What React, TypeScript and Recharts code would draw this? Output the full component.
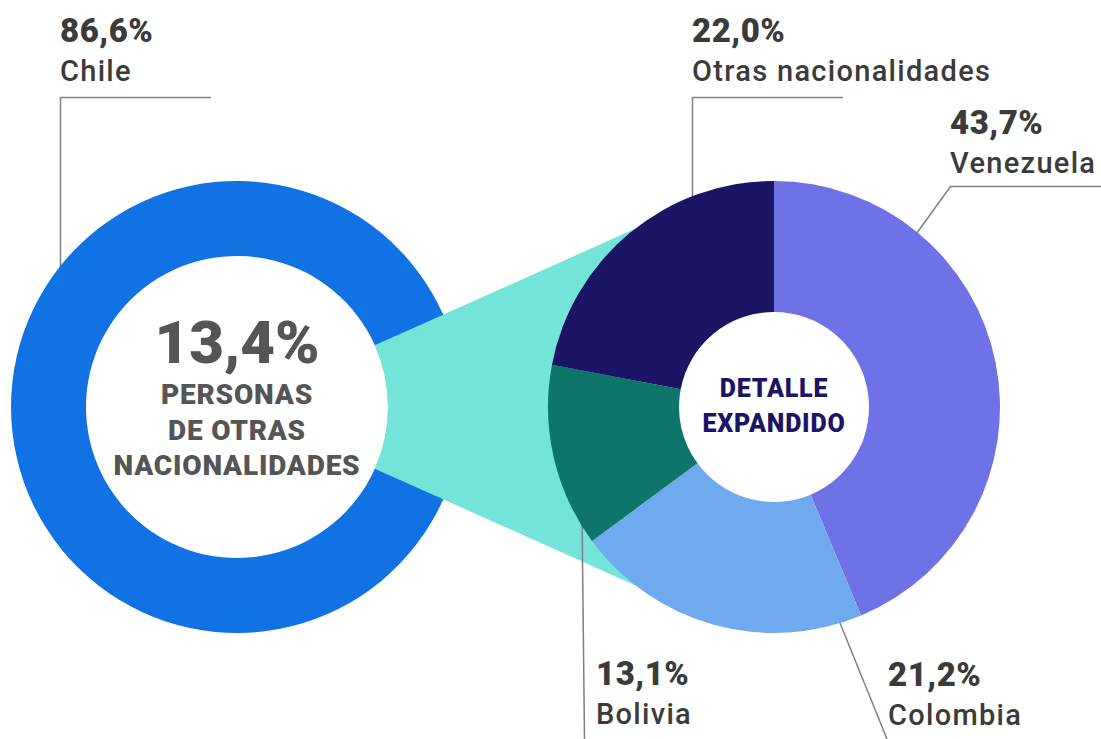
import React from 'react';
import { PieChart, Pie, Cell } from 'recharts';

// ---------- data ----------
const mainCategories = ['Otras nacionalidades', 'Chile'];
const mainValues = [13.4, 86.6];
const mainColors = ['#74E3D8', '#1173E3'];

const detailCategories = ['Venezuela', 'Colombia', 'Bolivia', 'Otras nacionalidades'];
const detailValues = [43.7, 21.2, 13.1, 22.0];
const detailColors = ['#6F71E6', '#6FAAEE', '#0D7569', '#1C1464'];

const centerMainLines = ['PERSONAS', 'DE OTRAS', 'NACIONALIDADES'];
const centerDetailLines = ['DETALLE', 'EXPANDIDO'];

const mainData = mainCategories.map((name, i) => ({ name, value: mainValues[i] }));
const detailData = detailCategories.map((name, i) => ({ name, value: detailValues[i] }));

const fmt = (v: number) => v.toFixed(1).replace('.', ',') + '%';

// ---------- layout ----------
const W = 1101;
const H = 739;
const L = { cx: 237, cy: 407, inner: 151, outer: 226 };
const R = { cx: 774, cy: 407, inner: 95, outer: 226 };
const FONT = 'Roboto, "Noto Sans", sans-serif';
const TXT = '#3b3b3b';
const LINE = '#808080';

// half-angle of the highlighted slice of the main donut
const halfAngle = (mainValues[0] / mainValues.reduce((a, b) => a + b, 0)) * 180;
const rad = (halfAngle * Math.PI) / 180;

function rayCircle(sign: number) {
  const ux = Math.cos(rad);
  const uy = -sign * Math.sin(rad);
  const dx = L.cx - R.cx;
  const dy = L.cy - R.cy;
  const b = dx * ux + dy * uy;
  const c = dx * dx + dy * dy - R.outer * R.outer;
  const disc = Math.max(0, b * b - c);
  const t = -b - Math.sqrt(disc);
  return { x: L.cx + t * ux, y: L.cy + t * uy };
}

const p1 = { x: L.cx + L.inner * Math.cos(rad), y: L.cy - L.inner * Math.sin(rad) };
const p4 = { x: L.cx + L.inner * Math.cos(rad), y: L.cy + L.inner * Math.sin(rad) };
const p2 = rayCircle(1);
const p3 = rayCircle(-1);
const connectorPath = `M${p1.x},${p1.y} L${p2.x},${p2.y} L${p3.x},${p3.y} L${p4.x},${p4.y} A${L.inner},${L.inner} 0 0 0 ${p1.x},${p1.y} Z`;

type LabelDef = { x: number; y: number; value: number; name: string; leader: string };
const labels: LabelDef[] = [
  { x: 60, y: 42, value: mainValues[1], name: mainCategories[1], leader: '211,97.5 60.5,97.5 60.5,275' },
  { x: 692, y: 42, value: detailValues[3], name: detailCategories[3], leader: '843,97.5 692.5,97.5 692.5,205' },
  { x: 950, y: 134, value: detailValues[0], name: detailCategories[0], leader: '1101,186.5 950.5,186.5 914,237' },
  { x: 596, y: 685, value: detailValues[2], name: detailCategories[2], leader: '584.5,739 582,515' },
  { x: 888, y: 686, value: detailValues[1], name: detailCategories[1], leader: '887,739 837.6,617' },
];

export default function App() {
  const abs: React.CSSProperties = { position: 'absolute', left: 0, top: 0 };
  return (
    <div style={{ ...abs, width: W, height: H, background: '#ffffff', overflow: 'hidden' }}>
      <svg style={abs} width={W} height={H}>
        <path d={connectorPath} fill={mainColors[0]} />
        {labels.map((l, i) => (
          <polyline key={i} points={l.leader} fill="none" stroke={LINE} strokeWidth={1.5} />
        ))}
      </svg>
      <div style={abs}>
        <PieChart width={W} height={H} margin={{ top: 0, right: 0, bottom: 0, left: 0 }}>
          <Pie
            data={mainData}
            dataKey="value"
            nameKey="name"
            cx={L.cx}
            cy={L.cy}
            innerRadius={L.inner}
            outerRadius={L.outer}
            startAngle={-halfAngle}
            endAngle={360 - halfAngle}
            stroke="none"
            isAnimationActive={false}
          >
            {mainData.map((d, i) => (
              <Cell key={d.name} fill={mainColors[i]} />
            ))}
          </Pie>
          <Pie
            data={detailData}
            dataKey="value"
            nameKey="name"
            cx={R.cx}
            cy={R.cy}
            innerRadius={R.inner}
            outerRadius={R.outer}
            startAngle={90}
            endAngle={-270}
            stroke="none"
            isAnimationActive={false}
          >
            {detailData.map((d, i) => (
              <Cell key={d.name} fill={detailColors[i]} />
            ))}
          </Pie>
        </PieChart>
      </div>
      <svg style={{ ...abs, pointerEvents: 'none' }} width={W} height={H} fontFamily={FONT}>
        {labels.map((l, i) => (
          <g key={i}>
            <text x={l.x} y={l.y} fontSize={33} fontWeight={900} fill={TXT} letterSpacing={0.5}>
              {fmt(l.value)}
            </text>
            <text x={l.x} y={l.y + 38.5} fontSize={29} fontWeight={500} fill={TXT} letterSpacing={1.3}>
              {l.name}
            </text>
          </g>
        ))}
        <text x={L.cx} y={363} textAnchor="middle" fontSize={60} fontWeight={900} fill="#555555">
          {fmt(mainValues[0])}
        </text>
        {centerMainLines.map((t, i) => (
          <text key={t} x={L.cx} y={404 + i * 35.5} textAnchor="middle" fontSize={28} fontWeight={900} fill="#555555" letterSpacing={0.8}>
            {t}
          </text>
        ))}
        {centerDetailLines.map((t, i) => (
          <text key={t} x={R.cx} y={397 + i * 35} textAnchor="middle" fontSize={25} fontWeight={900} fill="#1C1464" letterSpacing={0.8}>
            {t}
          </text>
        ))}
      </svg>
    </div>
  );
}
